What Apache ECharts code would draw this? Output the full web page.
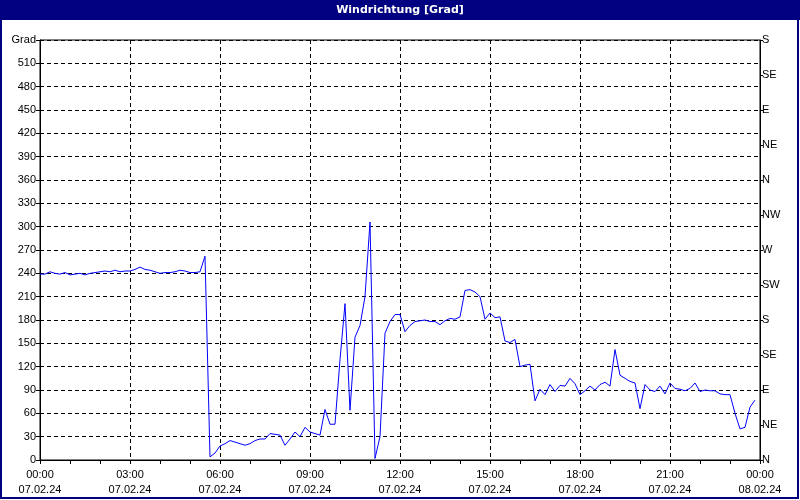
<!DOCTYPE html>
<html>
<head>
<meta charset="utf-8">
<style>
html,body{margin:0;padding:0;background:#fff;}
#c{width:800px;height:500px;}
</style>
<script src="https://cdn.jsdelivr.net/npm/echarts@6/dist/echarts.min.js"></script>
</head>
<body>
<div id="c"></div>
<script>
// time in minutes from 07.02.24 00:00, 10-minute steps
var stepMinutes = 10;
var values = [
  239, 239, 242, 240, 239, 241, 238, 239, 240, 238, 240, 241, 242, 243, 242, 244, 242, 243, 243, 245, 248, 245, 244, 242, 240, 241, 241, 242, 244, 243, 241, 241, 242, 262,
  4, 9, 18, 21, 25, 23, 21, 19, 21, 25, 27, 27, 34, 33, 32, 19, 27, 36, 30, 42, 36, 34, 32, 65, 46,
  46, 129, 201, 64, 158, 173, 210, 306, 2, 30, 163,
  178, 187, 187, 165, 173, 178, 179, 180, 178, 178, 174, 179, 182, 181, 184, 218, 219, 216, 210, 181, 189, 183, 184, 153, 151, 155, 120, 122, 123, 76,
  91, 84, 97, 88, 96, 95, 105, 98, 84, 89, 95, 90, 97, 100, 95, 142, 109, 105, 101, 99, 66, 97, 90, 88, 95, 85, 99, 92, 91, 89, 92, 99, 88, 90, 89, 89, 85, 84, 84, 60, 40, 42, 68, 77
];
var xTickLabels = {0:'00:00\n07.02.24',180:'03:00\n07.02.24',360:'06:00\n07.02.24',540:'09:00\n07.02.24',720:'12:00\n07.02.24',900:'15:00\n07.02.24',1080:'18:00\n07.02.24',1260:'21:00\n07.02.24',1440:'00:00\n08.02.24'};
var compassLabels = ['N','NE','E','SE','S','SW','W','NW','N','NE','E','SE','S'];
var titleText = 'Windrichtung [Grad]';
var unitLabel = 'Grad';

var data = values.map(function(v,i){ return [i*stepMinutes, v]; });
var font = '"Liberation Sans", Arial, sans-serif';
var chart = echarts.init(document.getElementById('c'), null, {renderer:'canvas'});
chart.setOption({
  animation:false,
  backgroundColor:'#ffffff',
  graphic:[
    {type:'rect', shape:{x:0,y:0,width:800,height:20}, style:{fill:'#000080'}, z:10},
    {type:'rect', shape:{x:1,y:1,width:797,height:497}, style:{fill:'none',stroke:'#000080',lineWidth:2}, z:10},
    {type:'text', x:400, y:10, style:{text:titleText, fill:'#ffffff', font:'bold 11px "DejaVu Sans", sans-serif', textAlign:'center', textVerticalAlign:'middle'}, z:11}
  ],
  grid:{left:40,right:40,top:40,bottom:40,show:true,borderColor:'#000',borderWidth:1,backgroundColor:'transparent'},
  xAxis:{
    type:'value', min:0, max:1440, interval:180,
    axisLine:{show:true,lineStyle:{color:'#000',width:1}},
    axisTick:{show:true,length:4,lineStyle:{color:'#000'}},
    minorTick:{show:true,splitNumber:3,length:4,lineStyle:{color:'#000'}},
    splitLine:{show:true,lineStyle:{color:'#000',type:[4,3],width:1}},
    axisLabel:{color:'#000',fontFamily:font,fontSize:11,margin:7,lineHeight:15,
      formatter:function(v){return xTickLabels[v]||'';}}
  },
  yAxis:[
    {type:'value', min:0, max:540, interval:30, position:'left',
      axisLine:{show:true,lineStyle:{color:'#000'}},
      axisTick:{show:true,length:4,lineStyle:{color:'#000'}},
      splitLine:{show:true,lineStyle:{color:'#000',type:[4,3],width:1}},
      axisLabel:{color:'#000',fontFamily:font,fontSize:11,margin:4,
        formatter:function(v){return v===540?unitLabel:String(v);}}
    },
    {type:'value', min:0, max:540, interval:45, position:'right',
      axisLine:{show:true,lineStyle:{color:'#000'}},
      axisTick:{show:true,length:3,lineStyle:{color:'#000'}},
      splitLine:{show:false},
      axisLabel:{color:'#000',fontFamily:font,fontSize:11,margin:2,
        formatter:function(v){return compassLabels[Math.round(v/45)];}}
    }
  ],
  series:[{
    type:'line', data:data, yAxisIndex:0, showSymbol:false, symbol:'none',
    lineStyle:{color:'#0000ff',width:1}, itemStyle:{color:'#0000ff'}
  }]
});
</script>
</body>
</html>
